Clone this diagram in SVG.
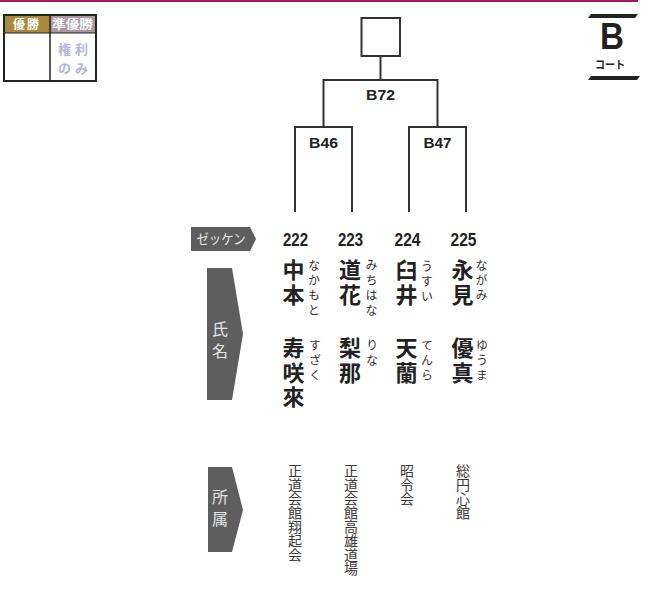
<svg xmlns="http://www.w3.org/2000/svg" width="653" height="597" viewBox="0 0 653 597">
<style>
.jp{font-family:"Noto Sans CJK JP","Noto Sans CJK SC",sans-serif}
.lat{font-family:"Liberation Sans",Arial,sans-serif;font-weight:bold;fill:#222}
.vt{writing-mode:vertical-rl}
.name{font-size:22px;font-weight:bold;fill:#222;letter-spacing:2.5px}
.furi{font-size:12px;fill:#333;letter-spacing:3px}
.aff{font-size:14px;fill:#3a3a3a}
.tag{fill:#5e5e5e}
.tagt{fill:#e4e4e4;font-size:16px;letter-spacing:6px}
.ln{stroke:#333;stroke-width:2;fill:none}
.kenri{font-size:13px;font-weight:bold;fill:#b3b5d9;letter-spacing:4px}
</style>
<rect x="0" y="0" width="638" height="2" fill="#a4175e"/>
<g id="legend">
<rect x="4" y="15" width="92" height="66" fill="#fff" stroke="#222" stroke-width="2"/>
<rect x="5" y="16" width="45" height="17" fill="#a9883e"/>
<rect x="50" y="16" width="45" height="17" fill="#a69aa0"/>
<line x1="50" y1="15" x2="50" y2="81" stroke="#222" stroke-width="1.5"/>
<line x1="4" y1="33" x2="96" y2="33" stroke="#222" stroke-width="1"/>
<text class="jp" x="27" y="29" font-size="12" font-weight="bold" fill="#fff" text-anchor="middle" letter-spacing="2">優勝</text>
<text class="jp" x="72.5" y="29" font-size="12" font-weight="bold" fill="#fff" text-anchor="middle" textLength="41" lengthAdjust="spacingAndGlyphs">準優勝</text>
<text class="jp kenri" x="75" y="54" text-anchor="middle">権利</text>
<text class="jp kenri" x="75" y="73" text-anchor="middle">のみ</text>
</g>
<g id="court">
<polygon points="591,14 638,14 635,18 588,18" fill="#222"/>
<text class="lat" x="612" y="49" font-size="36" text-anchor="middle" textLength="24" lengthAdjust="spacingAndGlyphs">B</text>
<text class="jp" x="610" y="69" font-size="11" font-weight="bold" fill="#222" text-anchor="middle" textLength="30" lengthAdjust="spacingAndGlyphs">コート</text>
<polygon points="591,76 640,76 637,80 588,80" fill="#222"/>
</g>
<g id="connectors">
<rect x="361.5" y="18" width="38.5" height="38" class="ln"/>
<path class="ln" d="M380.5 56V80M323.5 127V80H437.5V127M295 212V127H352V212M409 212V127H466V212"/>
</g>
<g id="labels">
<text class="lat" x="380.5" y="100" font-size="14" text-anchor="middle" textLength="29" lengthAdjust="spacingAndGlyphs">B72</text>
<text class="lat" x="323.5" y="148" font-size="14" text-anchor="middle" textLength="29" lengthAdjust="spacingAndGlyphs">B46</text>
<text class="lat" x="437.5" y="148" font-size="14" text-anchor="middle" textLength="28" lengthAdjust="spacingAndGlyphs">B47</text>
</g>
<g id="tag-zekken">
<polygon class="tag" points="191,227 250,227 256,239 250,251 191,251"/>
<text class="jp" x="221" y="244" font-size="14" fill="#e4e4e4" text-anchor="middle" textLength="49" lengthAdjust="spacingAndGlyphs">ゼッケン</text>
</g>
<g id="tag-name">
<polygon class="tag" points="207,268 232,268 243,334 232,400 207,400"/>
<text class="jp vt tagt" x="220" y="321">氏名</text>
</g>
<g id="tag-aff">
<polygon class="tag" points="208,467 232,467 243,510 232,552 208,552"/>
<text class="jp vt tagt" x="220" y="489">所属</text>
</g>
<g id="p222">
<text class="lat" x="295.5" y="246" font-size="18" text-anchor="middle" textLength="25" lengthAdjust="spacingAndGlyphs">222</text>
<text class="jp vt name" x="293.5" y="259">中本</text>
<text class="jp vt furi" x="314" y="259">なかもと</text>
<text class="jp vt name" x="293.5" y="337">寿咲來</text>
<text class="jp vt furi" x="315" y="339">すざく</text>
<text class="jp vt aff" x="295" y="464">正道会館翔起会</text>
</g>
<g id="p223">
<text class="lat" x="350.5" y="246" font-size="18" text-anchor="middle" textLength="25" lengthAdjust="spacingAndGlyphs">223</text>
<text class="jp vt name" x="350" y="259">道花</text>
<text class="jp vt furi" x="371.5" y="259">みちはな</text>
<text class="jp vt name" x="350" y="337">梨那</text>
<text class="jp vt furi" x="372" y="339">りな</text>
<text class="jp vt aff" x="351" y="464">正道会館高雄道場</text>
</g>
<g id="p224">
<text class="lat" x="407.5" y="246" font-size="18" text-anchor="middle" textLength="26" lengthAdjust="spacingAndGlyphs">224</text>
<text class="jp vt name" x="406.5" y="259">臼井</text>
<text class="jp vt furi" x="427" y="260">うすい</text>
<text class="jp vt name" x="406.5" y="337">天蘭</text>
<text class="jp vt furi" x="427" y="339">てんら</text>
<text class="jp vt aff" x="407" y="464">昭令会</text>
</g>
<g id="p225">
<text class="lat" x="463.5" y="246" font-size="18" text-anchor="middle" textLength="26" lengthAdjust="spacingAndGlyphs">225</text>
<text class="jp vt name" x="462.5" y="259">永見</text>
<text class="jp vt furi" x="481.5" y="259">ながみ</text>
<text class="jp vt name" x="462.5" y="337">優真</text>
<text class="jp vt furi" x="482" y="339">ゆうま</text>
<text class="jp vt aff" x="463" y="464">総円心館</text>
</g>
</svg>
